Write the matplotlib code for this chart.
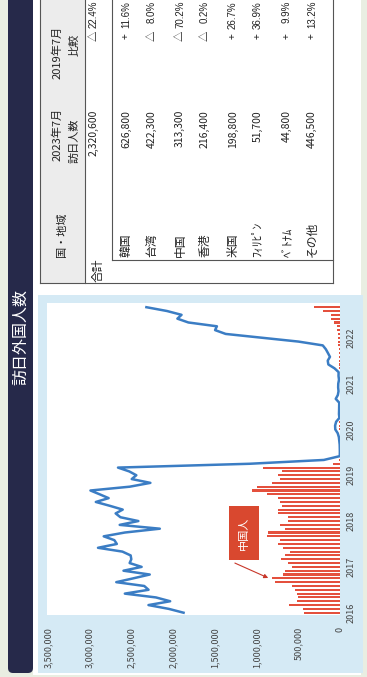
import matplotlib.pyplot as plt
import numpy as np
import pandas as pd
from matplotlib.patches import Rectangle, FancyBboxPatch

plt.rcParams['font.family'] = ['Noto Sans CJK JP', 'DejaVu Sans']

# monthly data, Nov 2016 .. Jul 2023
months = pd.period_range('2016-11', '2023-07', freq='M')

total_visitors = [
    1875194, 2051526,
    2295668, 2035780, 2205731, 2578970, 2294791, 2346474, 2681620, 2477469, 2280500, 2595095, 2377882, 2521593,
    2501409, 2509297, 2607956, 2900718, 2675052, 2704631, 2832040, 2578021, 2159600, 2640614, 2417192, 2632004,
    2689339, 2604322, 2760136, 2926685, 2773091, 2880041, 2991189, 2520134, 2272883, 2496568, 2441274, 2526387,
    2661022, 1085147, 193658, 2917, 1663, 2565, 3782, 8658, 13684, 27386, 56673, 58673,
    46454, 7355, 12276, 10876, 10035, 9250, 51055, 25916, 17719, 22113, 20734, 12084,
    17766, 16719, 66121, 139548, 147046, 120430, 144578, 169902, 206641, 498646, 934599, 1370114,
    1497472, 1475455, 1817500, 1949100, 1899300, 2073300, 2320600,
]

china_visitors = [
    430000, 440000,
    610000, 510000, 500000, 520000, 540000, 580000, 780000, 810000, 680000, 660000, 580000, 620000,
    710000, 660000, 600000, 680000, 740000, 720000, 880000, 860000, 660000, 720000, 620000, 620000,
    740000, 740000, 700000, 720000, 740000, 880000, 1050000, 1000000, 820000, 720000, 740000, 700000,
    924800, 87200, 10400, 200, 100, 200, 200, 600, 1500, 5600, 13000, 14000,
    10000, 2000, 2000, 1500, 1500, 1500, 4000, 2000, 2000, 2000, 2000, 2000,
    2000, 2000, 9000, 10000, 11000, 10000, 14000, 15000, 18000, 22000, 21000, 26000,
    31200, 36200, 75700, 108300, 102900, 208800, 313300,
]

value_ticks = [0, 500000, 1000000, 1500000, 2000000, 2500000, 3000000, 3500000]

# table (2023年7月)
table_names = ['韓国', '台湾', '中国', '香港', '米国', 'ﾌｨﾘﾋﾟﾝ', 'ﾍﾞﾄﾅﾑ', 'その他']
table_counts = ['626,800', '422,300', '313,300', '216,400', '198,800', '51,700', '44,800', '446,500']
table_signs = ['+', '△', '△', '△', '+', '+', '+', '+']
table_pcts = ['11.6%', '8.0%', '70.2%', '0.2%', '26.7%', '36.9%', '9.9%', '13.2%']
sum_count = '2,320,600'
sum_sign = '△'
sum_pct = '22.4%'

W, H = 367, 677
fig = plt.figure(figsize=(W / 100, H / 100), dpi=100, facecolor='#e9eee2')

# background layer in pixel coordinates
bg = fig.add_axes([0, 0, 1, 1], zorder=0)
bg.set_xlim(0, W)
bg.set_ylim(H, 0)
bg.axis('off')

bg.add_patch(Rectangle((33, 0), 328, 675, fc='white', ec='none'))
bg.add_patch(FancyBboxPatch((8, -20), 25, 693, boxstyle='round,pad=0,rounding_size=5',
                            fc='#26294a', ec='none'))
bg.text(21, 337, '訪日外国人数', rotation=90, color='white', fontsize=11.5,
        ha='center', va='center')

# chart panel
bg.add_patch(Rectangle((38, 295), 325, 378, fc='#d5eaf5', ec='none'))

# table
line_kw = dict(color='#555555', lw=0.8)
bg.add_patch(Rectangle((40, -2), 45, 285, fc='#ececec', ec='none'))
bg.plot([40, 40], [-2, 283], **line_kw)
bg.plot([333, 333], [-2, 283], **line_kw)
bg.plot([40, 333], [283, 283], **line_kw)
bg.plot([85, 85], [-2, 283], **line_kw)
bg.plot([112, 112], [-2, 260], **line_kw)
bg.plot([112, 333], [260, 260], **line_kw)

txt = '#222222'
num_font = ['Liberation Sans', 'DejaVu Sans']
bg.text(62, 235, '国・地域', rotation=90, fontsize=8, color=txt, ha='center', va='center')
bg.text(57, 134, '2023年7月', rotation=90, fontsize=8, color=txt, ha='center', va='center')
bg.text(75, 141, '訪日人数', rotation=90, fontsize=8, color=txt, ha='center', va='center')
bg.text(57, 52, '2019年7月', rotation=90, fontsize=8, color=txt, ha='center', va='center')
bg.text(75, 45, '比較', rotation=90, fontsize=8, color=txt, ha='center', va='center')

bg.text(98, 282, '合計', rotation=90, fontsize=8.5, color=txt, ha='center', va='bottom')
bg.text(94, 110, sum_count, rotation=90, fontsize=7.5, color=txt, ha='center', va='top')
bg.text(94, 36, sum_sign, rotation=90, fontsize=7.5, color=txt, ha='center', va='center')
bg.text(94, 1, sum_pct, rotation=90, fontsize=7, color=txt, ha='center', va='top',
        family=num_font)

row_x = [126, 152, 180, 205, 233, 258, 287, 312]
for rx, name, cnt, sg, pct in zip(row_x, table_names, table_counts, table_signs, table_pcts):
    bg.text(rx, 257, name, rotation=90, fontsize=8.5, color=txt, ha='center', va='bottom')
    bg.text(rx, 110, cnt, rotation=90, fontsize=7.5, color=txt, ha='center', va='top')
    bg.text(rx, 36, sg, rotation=90, fontsize=7.5, color=txt, ha='center', va='center')
    bg.text(rx, 1, pct, rotation=90, fontsize=7, color=txt, ha='center', va='top',
            family=num_font)

# chart axes (time runs upward, value runs leftward)
left, right, top, bottom = 47, 340, 303, 615
ax = fig.add_axes([left / W, 1 - bottom / H, (right - left) / W, (bottom - top) / H], zorder=1)
ax.set_facecolor('white')

idx = np.arange(len(months))
ax.barh(idx, china_visitors, height=0.55, left=0, color='#e4503d', zorder=2)
ax.plot(total_visitors, idx, color='#3b7dc4', lw=1.8, zorder=3, solid_joinstyle='round')

ax.set_xlim(3.512e6, 0)
ax.set_ylim(-0.6, 81.1)
for s in ax.spines.values():
    s.set_visible(False)

ax.set_xticks(value_ticks)
ax.set_xticklabels([f'{v:,}' for v in value_ticks])
ax.tick_params(axis='x', length=0, pad=8.5, labelsize=6.5, labelcolor='#444444', labelrotation=90)

year_pos = [i for i, m in enumerate(months) if m.month == 11]
year_lab = [str(months[i].year) for i in year_pos]
ax.yaxis.tick_right()
ax.set_yticks(year_pos)
ax.set_yticklabels(year_lab)
ax.tick_params(axis='y', length=0, pad=5, labelsize=6.5, labelcolor='#444444', labelrotation=90)
for lab in ax.get_yticklabels():
    lab.set_va('center')

# 中国人 label
ax.text(1.15e6, 20.9, '中国人', rotation=90, color='white', fontsize=8,
        ha='center', va='center', zorder=4,
        bbox=dict(boxstyle='square,pad=0.9', fc='#d9482f', ec='none'))
ax.annotate('', xy=(0.86e6, 9.1), xytext=(1.26e6, 13.0), zorder=4,
            arrowprops=dict(arrowstyle='-|>', color='#c8372a', lw=0.8, mutation_scale=6,
                            shrinkA=0, shrinkB=0))

plt.savefig('out.png', dpi=100, facecolor=fig.get_facecolor())
